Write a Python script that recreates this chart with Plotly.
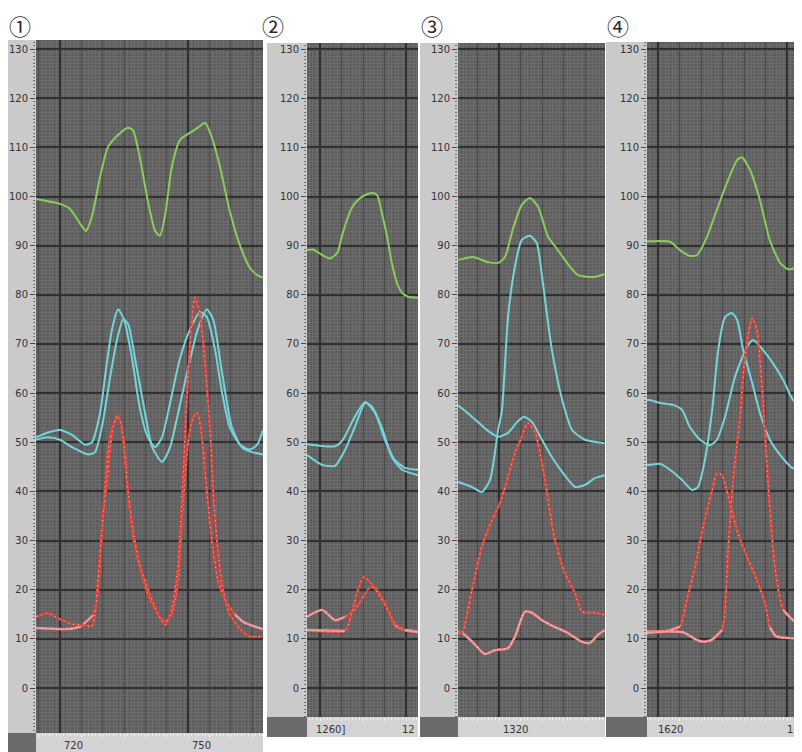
import plotly.graph_objects as go

# The page body keeps the browser's default 8 px margin, so the figure is drawn
# 8 px in from the window's top-left corner: it is sized to fill the rest.
PAGE_W, PAGE_H = 802, 752
OFF = 8
W, H = PAGE_W - OFF, PAGE_H - OFF
Y0_PX = 688.0      # window row of y = 0 (layout geometry)
PPU_Y = 4.915      # pixels per y unit

# ------------------------------------------------------------------ data
# Panel 1
P1_GREEN_X = [714.4, 720.0, 722.3, 724.7, 726.1, 727.5, 729.4, 731.2, 733.6, 735.9, 737.1, 738.7, 740.6, 742.3,
              743.4, 744.6, 746.2, 748.1, 750.5, 752.3, 754.0, 755.6, 757.5, 759.8, 762.2, 764.5, 766.2, 767.6]
P1_GREEN_Y = [99.5, 98.5, 97.5, 94.5, 93.0, 96.0, 104.0, 110.0, 112.5, 114.0, 113.5, 108.0, 99.0, 93.0,
              92.0, 96.0, 106.0, 111.5, 113.0, 114.0, 115.0, 112.0, 106.0, 97.0, 90.0, 85.5, 84.0, 83.5]
P1_CYAN_A_X = [714.4, 717.2, 720.0, 722.8, 725.9, 727.5, 729.4, 730.8, 732.2, 733.6, 735.0, 736.9, 738.7, 740.6,
               742.3, 743.9, 745.8, 748.1, 750.5, 752.8, 754.4, 756.3, 758.0, 759.8, 762.2, 764.5, 766.2, 767.6]
P1_CYAN_A_Y = [51.0, 52.0, 52.5, 51.5, 49.5, 50.0, 56.0, 65.0, 73.0, 77.0, 75.0, 67.0, 57.0, 51.0,
               49.0, 51.0, 58.0, 67.0, 73.0, 76.5, 75.5, 69.0, 60.0, 53.0, 49.5, 48.5, 49.5, 52.5]
P1_CYAN_B_X = [714.4, 717.2, 720.0, 722.8, 726.6, 728.2, 729.8, 731.7, 733.4, 734.8, 736.0, 737.6, 739.5, 741.6,
               743.9, 745.8, 747.7, 750.0, 752.3, 754.4, 755.9, 758.0, 760.3, 762.6, 765.0, 767.6]
P1_CYAN_B_Y = [50.5, 51.0, 50.5, 49.0, 47.5, 48.0, 53.0, 63.0, 71.0, 75.0, 74.0, 67.0, 58.0, 49.0,
               46.0, 49.0, 56.0, 65.0, 73.0, 77.0, 75.0, 64.0, 53.0, 49.0, 48.0, 47.5]
P1_RED_A_X = [714.4, 717.2, 720.0, 722.8, 725.9, 727.5, 728.2, 728.9, 730.1, 731.0, 732.2, 733.4, 734.5, 735.7,
              737.1, 738.7, 741.1, 743.0, 744.6, 746.2, 747.7, 748.6, 749.5, 750.5, 751.6, 752.8, 754.0, 755.2,
              755.9, 757.0, 758.2, 759.8, 762.2, 764.5, 767.6]
P1_RED_A_Y = [14.5, 15.2, 14.0, 13.0, 12.8, 12.5, 15.0, 22.0, 35.0, 42.0, 52.0, 55.5, 53.0, 42.0,
              32.0, 25.0, 19.0, 15.0, 12.8, 16.0, 25.0, 38.0, 55.0, 70.0, 79.5, 76.0, 66.0, 52.0,
              40.0, 28.0, 20.0, 15.0, 12.0, 10.5, 10.5]
P1_RED_B_X = [714.4, 721.6, 724.7, 727.7, 728.7, 729.4, 730.3, 731.5, 732.7, 733.8, 735.0, 735.9, 737.3, 739.2,
              741.1, 743.0, 744.6, 746.2, 747.7, 748.9, 750.0, 751.2, 752.1, 753.0, 754.2, 755.6, 757.0, 758.7,
              761.0, 762.9, 765.7, 767.6]
P1_RED_B_Y = [12.2, 12.0, 12.5, 14.8, 18.0, 25.0, 38.0, 50.0, 54.0, 55.0, 50.0, 40.0, 30.0, 23.0,
              18.0, 15.0, 13.5, 15.0, 22.0, 38.0, 50.0, 55.0, 56.0, 53.0, 42.0, 30.0, 22.0, 18.0,
              15.0, 13.5, 12.5, 12.0]
P1_XTICKS = [720, 750]
P1_XLABELS = ["720", "750"]

# Panel 2
P2_GREEN_X = [1257.0, 1258.4, 1260.5, 1262.3, 1264.0, 1265.3, 1267.4, 1268.8, 1270.5, 1272.3, 1273.3, 1274.4,
              1275.6, 1276.7, 1277.9, 1279.1, 1280.5, 1282.8]
P2_GREEN_Y = [89.1, 89.2, 88.1, 87.4, 88.5, 92.6, 97.7, 99.3, 100.3, 100.7, 100.3, 96.6,
              91.8, 86.5, 82.4, 80.4, 79.6, 79.4]
P2_CYAN_A_X = [1257.0, 1263.5, 1265.3, 1268.1, 1270.5, 1272.8, 1275.1, 1277.4, 1279.8, 1282.8]
P2_CYAN_A_Y = [49.6, 49.2, 50.5, 55.2, 58.2, 56.0, 50.5, 46.4, 44.8, 44.4]
P2_CYAN_B_X = [1257.0, 1260.5, 1263.5, 1265.8, 1268.1, 1270.5, 1272.1, 1274.4, 1276.7, 1279.1, 1282.8]
P2_CYAN_B_Y = [47.4, 45.4, 45.2, 48.4, 53.1, 58.0, 57.2, 53.0, 47.0, 44.4, 43.3]
P2_RED_A_X = [1257.0, 1265.8, 1267.4, 1268.8, 1270.2, 1271.6, 1273.5, 1275.8, 1277.4, 1279.8, 1282.8]
P2_RED_A_Y = [11.8, 11.6, 15.2, 19.9, 22.6, 21.6, 19.3, 15.9, 13.2, 11.8, 11.4]
P2_RED_B_X = [1257.0, 1260.5, 1263.5, 1265.8, 1268.1, 1271.6, 1272.8, 1275.1, 1277.4, 1279.8, 1282.8]
P2_RED_B_Y = [14.5, 15.9, 13.8, 14.5, 15.9, 20.5, 20.5, 17.3, 12.8, 11.8, 11.4]
P2_XTICKS = [1260, 1280]
P2_XLABELS = ["1260]", "12"]

# Panel 3
P3_GREEN_X = [1310.5, 1314.0, 1317.2, 1319.8, 1321.4, 1323.3, 1325.3, 1327.2, 1329.1, 1331.4, 1333.7, 1336.5,
              1338.4, 1341.6, 1344.6]
P3_GREEN_Y = [87.1, 87.7, 86.7, 86.5, 87.7, 93.6, 98.3, 99.7, 97.9, 91.8, 89.1, 85.7, 84.0, 83.6, 84.2]
P3_CYAN_A_X = [1310.5, 1313.7, 1316.0, 1317.9, 1319.8, 1320.7, 1322.1, 1323.7, 1325.3, 1327.2, 1328.8, 1330.2,
               1332.3, 1334.7, 1337.0, 1340.0, 1344.6]
P3_CYAN_A_Y = [41.9, 40.9, 39.9, 42.3, 52.5, 56.6, 75.5, 85.7, 91.2, 92.0, 90.5, 82.4,
               68.8, 58.6, 52.5, 50.5, 49.8]
P3_CYAN_B_X = [1310.5, 1313.7, 1317.2, 1319.8, 1322.1, 1324.2, 1325.8, 1327.7, 1330.0, 1332.3, 1334.9, 1337.7,
               1340.0, 1342.3, 1344.6]
P3_CYAN_B_Y = [57.5, 55.2, 52.5, 51.1, 51.9, 54.1, 55.2, 54.1, 50.5, 47.0, 43.7, 40.9, 41.3, 42.7, 43.3]
P3_RED_A_X = [1310.5, 1311.4, 1313.7, 1316.0, 1318.4, 1320.2, 1322.1, 1323.7, 1325.3, 1326.7, 1328.4, 1330.7,
              1331.9, 1333.0, 1335.3, 1337.7, 1339.3, 1342.3, 1344.6]
P3_RED_A_Y = [11.5, 11.2, 19.9, 28.7, 34.2, 37.6, 42.9, 47.8, 51.1, 53.9, 52.0, 42.3,
              35.6, 30.1, 23.4, 19.3, 15.5, 15.3, 14.9]
P3_RED_B_X = [1310.5, 1311.4, 1314.0, 1316.7, 1319.1, 1322.1, 1323.7, 1326.0, 1327.7, 1330.0, 1333.0, 1336.0,
              1339.3, 1341.2, 1343.0, 1344.6]
P3_RED_B_Y = [11.3, 11.2, 9.2, 6.9, 7.7, 8.1, 10.4, 15.5, 15.3, 13.8, 12.4, 11.2, 9.4, 9.2, 10.8, 11.8]
P3_XTICKS = [1320]
P3_XLABELS = ["1320"]

# Panel 4
P4_GREEN_X = [1617.4, 1618.1, 1622.8, 1625.1, 1627.4, 1629.1, 1631.4, 1633.7, 1636.0, 1638.4, 1639.5, 1641.4,
              1643.7, 1646.0, 1648.4, 1650.2, 1651.9, 1653.5]
P4_GREEN_Y = [90.9, 90.9, 90.8, 89.1, 87.9, 88.1, 91.8, 97.3, 102.7, 107.4, 108.0, 105.4,
              99.3, 91.1, 86.5, 85.2, 85.5, 87.7]
P4_CYAN_A_X = [1617.4, 1618.1, 1620.5, 1622.8, 1625.6, 1627.9, 1629.3, 1630.9, 1632.6, 1634.0, 1635.6, 1637.2,
               1638.4, 1639.8, 1641.9, 1643.7, 1646.0, 1648.8, 1651.2, 1653.5]
P4_CYAN_A_Y = [45.4, 45.4, 45.6, 44.4, 42.3, 40.3, 40.9, 46.4, 56.6, 68.8, 75.5, 76.3,
               74.9, 68.8, 62.1, 56.0, 50.5, 47.0, 44.8, 44.4]
P4_CYAN_B_X = [1617.4, 1618.1, 1620.5, 1623.5, 1625.6, 1627.4, 1629.8, 1632.1, 1633.7, 1635.6, 1637.9, 1640.7,
               1642.1, 1644.4, 1646.7, 1649.1, 1651.4, 1653.5]
P4_CYAN_B_Y = [58.6, 58.6, 58.0, 57.6, 56.6, 53.1, 50.5, 49.4, 50.5, 55.2, 63.3, 69.4,
               70.8, 68.8, 66.1, 62.7, 58.6, 57.2]
P4_RED_A_X = [1617.4, 1622.0, 1626.0, 1628.5, 1630.5, 1632.5, 1634.9, 1636.3, 1637.4, 1639.1, 1640.2, 1641.9,
              1643.0, 1644.4, 1645.6, 1647.2, 1649.1, 1651.4, 1653.5]
P4_RED_A_Y = [11.2, 11.5, 11.3, 10.0, 9.4, 9.8, 11.8, 28.0, 41.7, 55.2, 67.3, 75.3,
              72.8, 58.6, 41.7, 24.6, 15.9, 13.8, 12.4]
P4_RED_B_X = [1617.4, 1622.0, 1625.1, 1626.7, 1628.6, 1630.5, 1632.6, 1633.7, 1634.9, 1636.7, 1638.6, 1640.7,
              1643.0, 1644.9, 1646.0, 1647.5, 1650.0, 1653.5]
P4_RED_B_Y = [11.5, 11.6, 12.5, 17.9, 24.6, 32.8, 40.3, 43.7, 43.3, 37.6, 31.5, 26.7,
              22.0, 17.3, 12.4, 10.5, 10.2, 10.0]
P4_XTICKS = [1620, 1650]
P4_XLABELS = ["1620", "16"]

PANEL_LABELS = ["①", "②", "③", "④"]

# ------------------------------------------------------------------ style
GREEN = "#89cc5e"
CYAN = "#74d4d8"
RED = "#d9453d"
PINK = "#eb9396"
DOTS = "rgba(255,222,215,0.9)"
BG = "#5e5e5e"
MESH = "#6c6c6c"
MEDIUM = "#4a4a4a"
MAJOR = "#303030"
STRIP = "#cacaca"
STRIP_LIGHT = "#d3d3d3"
DARK_SQ = "#6b6b6b"
TXT = "#333333"

# panel geometry in window pixels: plot area, x anchor (pixel, value), pixels per x unit,
# and x-intervals where the red-family traces are drawn in the lighter pink
PANELS = [
    dict(px=(36, 263), py=(40, 733), anchor=(60, 720), ppu=4.267, strip=(7, 36), bottom=(733, 752),
         data=(P1_GREEN_X, P1_GREEN_Y, P1_CYAN_A_X, P1_CYAN_A_Y, P1_CYAN_B_X, P1_CYAN_B_Y,
               P1_RED_A_X, P1_RED_A_Y, P1_RED_B_X, P1_RED_B_Y), ticks=(P1_XTICKS, P1_XLABELS),
         pink_a=[], pink_b=[(714, 727.9), (760.8, 768)], shift=4, label=20),
    dict(px=(307, 418), py=(43, 717), anchor=(406, 1280), ppu=4.3, strip=(267, 307), bottom=(717, 737),
         data=(P2_GREEN_X, P2_GREEN_Y, P2_CYAN_A_X, P2_CYAN_A_Y, P2_CYAN_B_X, P2_CYAN_B_Y,
               P2_RED_A_X, P2_RED_A_Y, P2_RED_B_X, P2_RED_B_Y), ticks=(P2_XTICKS, P2_XLABELS),
         pink_a=[(1256, 1266.0), (1278.5, 1283)], pink_b=[(1256, 1267.5), (1277.0, 1283)], shift=-4,
         label=273),
    dict(px=(458, 605), py=(43, 717), anchor=(499, 1320), ppu=4.3, strip=(420, 458), bottom=(717, 737),
         data=(P3_GREEN_X, P3_GREEN_Y, P3_CYAN_A_X, P3_CYAN_A_Y, P3_CYAN_B_X, P3_CYAN_B_Y,
               P3_RED_A_X, P3_RED_A_Y, P3_RED_B_X, P3_RED_B_Y), ticks=(P3_XTICKS, P3_XLABELS),
         pink_a=[], pink_b=[(1310, 1345)], shift=4, label=432),
    dict(px=(647, 802), py=(42, 717), anchor=(658, 1620), ppu=4.3, strip=(606, 647), bottom=(717, 737),
         data=(P4_GREEN_X, P4_GREEN_Y, P4_CYAN_A_X, P4_CYAN_A_Y, P4_CYAN_B_X, P4_CYAN_B_Y,
               P4_RED_A_X, P4_RED_A_Y, P4_RED_B_X, P4_RED_B_Y), ticks=(P4_XTICKS, P4_XLABELS),
         pink_a=[(1617, 1634.9), (1649.1, 1654)], pink_b=[(1617, 1625.1), (1646.0, 1654)], shift=0,
         label=618),
]


def fx(px):
    return max(0.0, (px - OFF) / W)


def fy(py):
    return 1 - (py - OFF) / H


def part(xs, ys, lo, hi):
    sel = [(a, b) for a, b in zip(xs, ys) if lo <= a <= hi]
    return [a for a, _ in sel], [b for _, b in sel]


fig = go.Figure()
shapes = []
annotations = []
layout_axes = {}
n = len(PANELS)

for i, p in enumerate(PANELS, start=1):
    xn = "x" if i == 1 else f"x{i}"
    yn = "y" if i == 1 else f"y{i}"
    xk = "xaxis" if i == 1 else f"xaxis{i}"
    yk = "yaxis" if i == 1 else f"yaxis{i}"
    xo = f"x{i + n}"          # overlay x axis: labelled ticks + dark major grid
    xok = f"xaxis{i + n}"

    ax_px, ax_val = p["anchor"]
    x_lo = ax_val + (p["px"][0] - ax_px) / p["ppu"]
    x_hi = ax_val + (p["px"][1] - ax_px) / p["ppu"]
    y_hi = (Y0_PX - p["py"][0]) / PPU_Y
    y_lo = (Y0_PX - p["py"][1]) / PPU_Y

    tick_vals, tick_txt = p["ticks"]
    mediums = [v for v in range(int(x_lo // 5 * 5), int(x_hi) + 1, 5) if x_lo <= v <= x_hi]

    layout_axes[xk] = dict(
        domain=[fx(p["px"][0]), min(1.0, fx(p["px"][1]))], range=[x_lo, x_hi], anchor=yn,
        tickmode="array", tickvals=mediums, showticklabels=False,
        showgrid=True, gridcolor=MEDIUM, gridwidth=1, zeroline=False, showline=False,
        ticks="outside", ticklen=3, tickcolor="#f4f4f4",
        minor=dict(tick0=mediums[0], dtick=5 / 6, showgrid=True, gridcolor=MESH, gridwidth=1,
                   ticks="outside", ticklen=2, tickcolor="#f4f4f4"),
        fixedrange=True,
    )
    layout_axes[xok] = dict(
        overlaying=xn, range=[x_lo, x_hi], anchor=yn, side="bottom",
        tickmode="array", tickvals=tick_vals, ticktext=tick_txt,
        showgrid=True, gridcolor=MAJOR, gridwidth=1.5, zeroline=False, showline=False,
        ticks="", ticklabelposition="outside right", ticklabeloverflow="allow",
        ticklabelshift=p["shift"], ticklabelstandoff=5,
        tickfont=dict(family="DejaVu Sans", size=10, color=TXT),
        fixedrange=True,
    )
    layout_axes[yk] = dict(
        domain=[fy(p["py"][1]), fy(p["py"][0])], range=[y_lo, y_hi], anchor=xn,
        tickmode="linear", tick0=0, dtick=10,
        showgrid=True, gridcolor=MAJOR, gridwidth=1.5, zeroline=False, showline=False,
        ticks="outside", ticklen=5, tickcolor="#4a4a4a",
        tickfont=dict(family="DejaVu Sans", size=10, color=TXT),
        minor=dict(tick0=0, dtick=10 / 14, showgrid=True, gridcolor=MESH, gridwidth=1,
                   ticks="outside", ticklen=2, tickcolor="#6e6e6e"),
        fixedrange=True,
    )

    # left label strip
    shapes.append(dict(type="rect", xref="paper", yref="paper", x0=fx(p["strip"][0]), x1=fx(p["px"][0]),
                       y0=fy(p["py"][1]), y1=fy(p["py"][0]), fillcolor=STRIP, line=dict(width=0), layer="below"))
    # bottom dark square and light axis strip
    b0, b1 = p["bottom"]
    shapes.append(dict(type="rect", xref="paper", yref="paper", x0=fx(p["strip"][0]), x1=fx(p["px"][0]),
                       y0=fy(b1), y1=fy(b0), fillcolor=DARK_SQ, line=dict(width=0), layer="below"))
    shapes.append(dict(type="rect", xref="paper", yref="paper", x0=fx(p["px"][0]), x1=min(1.0, fx(p["px"][1])),
                       y0=fy(b1), y1=fy(b0), fillcolor=STRIP_LIGHT, line=dict(width=0), layer="below"))

    gx, gy, cax, cay, cbx, cby, rax, ray, rbx, rby = p["data"]
    base = dict(mode="lines", hoverinfo="skip", showlegend=False)
    main = dict(xaxis=xn, yaxis=yn, **base)
    over = dict(xaxis=xo, yaxis=yn, **base)
    spl = dict(shape="spline", smoothing=0.6)
    fig.add_trace(go.Scatter(x=gx, y=gy, line=dict(color=GREEN, width=2, **spl), **main))
    fig.add_trace(go.Scatter(x=cax, y=cay, line=dict(color=CYAN, width=2, **spl), **main))
    fig.add_trace(go.Scatter(x=cbx, y=cby, line=dict(color=CYAN, width=2, **spl), **main))
    for sx, sy, pinks in ((rbx, rby, p["pink_b"]), (rax, ray, p["pink_a"])):
        fig.add_trace(go.Scatter(x=sx, y=sy, line=dict(color=RED, width=2.4, **spl), **over))
        for lo, hi in pinks:
            px_, py_ = part(sx, sy, lo, hi)
            fig.add_trace(go.Scatter(x=px_, y=py_, line=dict(color=PINK, width=2.4, **spl), **over))
        fig.add_trace(go.Scatter(x=sx, y=sy, line=dict(color=DOTS, width=1, dash="1px,4px", **spl), **over))

    # circled panel number, hung from the top edge of the figure
    annotations.append(dict(text=PANEL_LABELS[i - 1], xref="paper", yref="paper", x=fx(p["label"]), y=1.0,
                            xanchor="center", yanchor="top", showarrow=False, borderpad=0,
                            font=dict(family="Noto Sans CJK JP", size=22, color="#2a2a2a")))

fig.update_layout(
    width=W, height=H, margin=dict(l=0, r=0, t=0, b=0),
    paper_bgcolor="white", plot_bgcolor=BG, showlegend=False,
    shapes=shapes, annotations=annotations, **layout_axes,
)

fig.write_html("out.html")
